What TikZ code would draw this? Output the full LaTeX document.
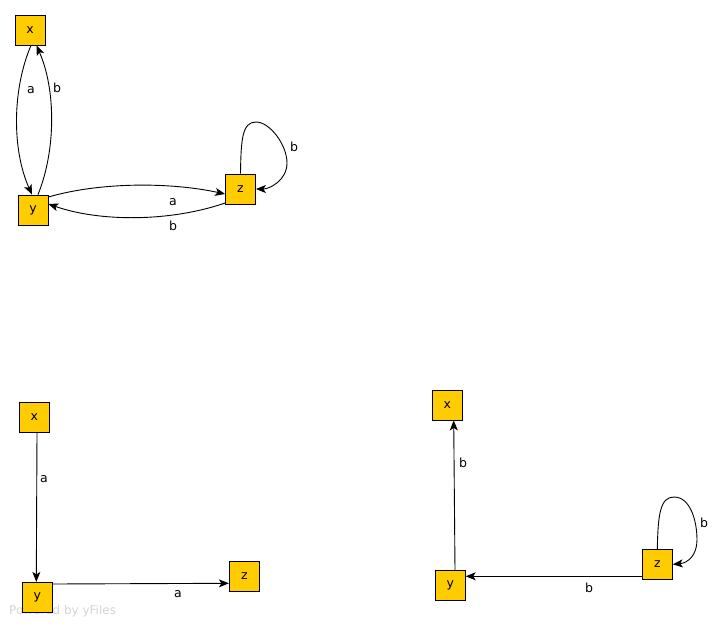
\documentclass[tikz,border=0pt]{standalone}
\usepackage{fontspec}
\setmainfont{DejaVu Sans}
\usetikzlibrary{arrows.meta,calc}
\tikzset{
  statebox/.style={draw=black, line width=0.8pt, fill=yfyellow, minimum size=30pt, inner sep=0pt, font=\fontsize{12.5}{13}\selectfont},
  edge/.style={draw=black, line width=0.9pt, -{Stealth[length=10pt,width=8pt,inset=2.5pt]}},
  elabel/.style={font=\fontsize{12.5}{13}\selectfont, inner sep=0pt},
}
\definecolor{yfyellow}{HTML}{FFCC00}
\definecolor{wmgray}{HTML}{D4D4D4}
\begin{document}
\begin{tikzpicture}[x=1pt,y=-1pt]
\useasboundingbox (0,0) rectangle (726,627);
% watermark
\node[anchor=west, text=wmgray, font=\fontsize{12}{13}\selectfont, inner sep=0pt] (wm) at (9,611) {Powered by yFiles};
% ---- top graph
\node[statebox] (tx) at (30,30) {x};
\node[statebox] (ty) at (33,210) {y};
\node[statebox] (tz) at (240.5,189) {z};
\draw[edge] ($(tx.south)+(1,0)$) .. controls (12,90) and (12,150) .. ($(ty.north)+(-1,0)$);
\node[elabel] (la1) at (31,90) {a};
\draw[edge] ($(ty.north)+(5,0)$) .. controls (56,150) and (56,90) .. ($(tx.south)+(6.5,0)$);
\node[elabel] (lb1) at (57,88) {b};
\draw[edge] ($(ty.east)+(0,-13)$) .. controls (100,182) and (170,182) .. ($(tz.west)+(0,5)$);
\node[elabel] (la2) at (173,202) {a};
\draw[edge] ($(tz.west)+(0,14)$) .. controls (170,222) and (100,222) .. ($(ty.east)+(0,-6)$);
\node[elabel] (lb2) at (173,226) {b};
\draw[edge] (tz.north) .. controls (241,140) and (242,122) .. (256,122) .. controls (270,122) and (287,145) .. (287,163) .. controls (287,180) and (270,189) .. (tz.east);
\node[elabel] (lb3) at (294,147) {b};
% ---- bottom left graph
\node[statebox] (bx) at (34.3,417.3) {x};
\node[statebox] (by) at (37.3,597.3) {y};
\node[statebox] (bz) at (244.3,576.3) {z};
\draw[edge] ($(bx.south)+(2.7,0)$) -- ($(by.north)+(-1,0)$);
\node[elabel] (la3) at (44,479) {a};
\draw[edge] ($(by.east)+(0,-13.3)$) -- ($(bz.west)+(0,7)$);
\node[elabel] (la4) at (178,594) {a};
% ---- bottom right graph
\node[statebox] (rx) at (447.3,405) {x};
\node[statebox] (ry) at (450.3,585.3) {y};
\node[statebox] (rz) at (657.3,564.3) {z};
\draw[edge] ($(ry.north)+(4.7,0)$) -- ($(rx.south)+(6.4,0)$);
\node[elabel] (lb4) at (463,463) {b};
\draw[edge] ($(rz.west)+(0,12)$) -- ($(ry.east)+(0,-9)$);
\node[elabel] (lb5) at (589,588) {b};
\draw[edge] (rz.north) .. controls (658,515) and (660,497) .. (674,497) .. controls (690,497) and (697,520) .. (697,540) .. controls (697,555) and (688,563) .. (rz.east);
\node[elabel] (lb6) at (704,523) {b};
\end{tikzpicture}
\end{document}
